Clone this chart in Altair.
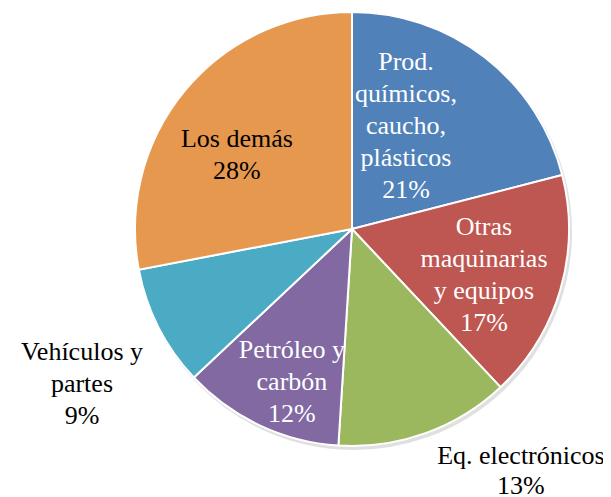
import altair as alt
import pandas as pd
import math

categories = ["Prod. químicos, caucho, plásticos", "Otras maquinarias y equipos",
              "Eq. electrónicos", "Petróleo y carbón", "Vehículos y partes", "Los demás"]
labels = ["Prod.\nquímicos,\ncaucho,\nplásticos\n21%", "Otras\nmaquinarias\ny equipos\n17%",
          "Eq. electrónicos\n13%", "Petróleo y\ncarbón\n12%", "Vehículos y\npartes\n9%",
          "Los demás\n28%"]
values = [21, 17, 13, 12, 9, 28]
order = [1, 2, 3, 4, 5, 6]
colors = ["#5081B9", "#BE5651", "#9BB85E", "#8269A2", "#4BAAC4", "#E6984F"]

df = pd.DataFrame({"cat": categories, "label": labels, "value": values, "ord": order})

CX, CY = 344, 221
R = 217

shadow = alt.Chart(df).mark_arc(radius=R + 1, color="#bbbbbb", opacity=0.45).encode(
    theta=alt.Theta("value:Q", stack=True),
    order=alt.Order("ord:Q"),
    x=alt.value(CX + 2), y=alt.value(CY + 3),
)

pie = alt.Chart(df).mark_arc(stroke="white", strokeWidth=2, radius=R).encode(
    theta=alt.Theta("value:Q", stack=True),
    order=alt.Order("ord:Q"),
    color=alt.Color("cat:N", scale=alt.Scale(domain=categories, range=colors), legend=None),
    x=alt.value(CX), y=alt.value(CY),
)

lbase = alt.Chart(df).transform_stack(
    stack="value", as_=["v0", "v1"], groupby=[], sort=[alt.SortField("ord", order="ascending")]
).transform_calculate(mid="(datum.v0 + datum.v1) / 2")

# label settings: (category index, radius, theta offset (rad), color, line height)
label_cfg = [
    (0, 175.5, -0.347, "white", 32),
    (1, 132, -0.298, "white", 32),
    (2, 283.0, -0.294, "black", 30),
    (3, 135.1, 0.021, "white", 32),
    (4, 296.7, 0.044, "black", 32),
    (5, 146.0, -0.028, "black", 32),
]

layers = [shadow, pie]
for idx, r, toff, col, lh in label_cfg:
    layers.append(
        lbase.transform_filter(alt.datum.ord == order[idx])
        .mark_text(radius=r, thetaOffset=toff, font="Liberation Serif", fontSize=26,
                   lineBreak="\n", color=col, lineHeight=lh, align="center", baseline="middle")
        .encode(
            theta=alt.Theta("mid:Q", scale=alt.Scale(domain=[0, 100], range=[0, 2 * math.pi])),
            text="label:N", x=alt.value(CX), y=alt.value(CY),
        )
    )

chart = alt.layer(*layers).resolve_scale(theta="independent").properties(
    width=595, height=489, padding=0, autosize="none"
).configure_view(stroke=None)

chart.save("out.html", embed_options={"renderer": "svg", "actions": False})
